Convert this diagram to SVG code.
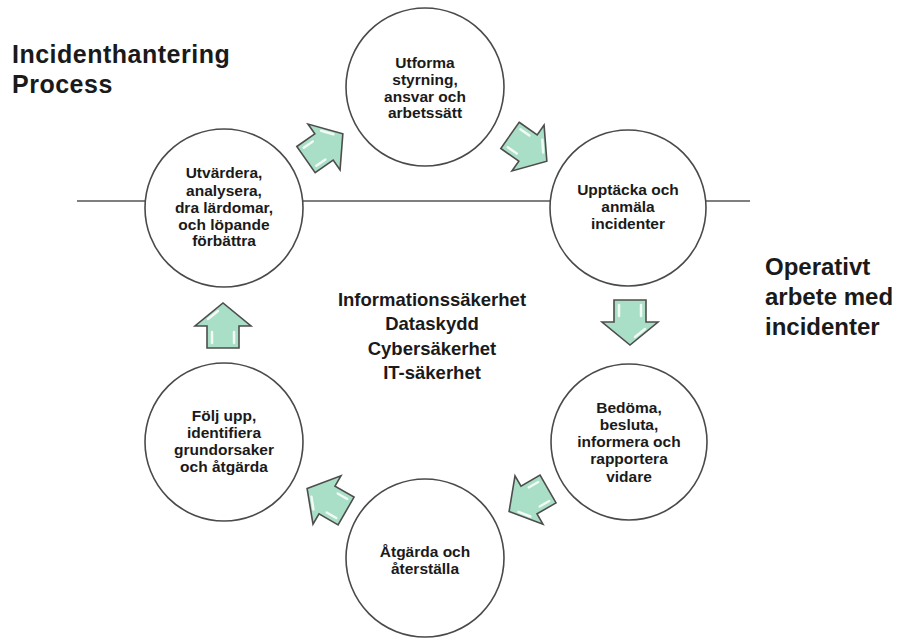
<svg xmlns="http://www.w3.org/2000/svg" width="904" height="638" viewBox="0 0 904 638">
  <style>
    .bg { fill: #ffffff; }
    .axis { stroke: #555555; stroke-width: 1.3; fill: none; }
    .node { fill: #ffffff; stroke: #4a4a4a; stroke-width: 1.6; }
    .lbl { font-family: "Liberation Sans", Arial, sans-serif; font-weight: bold; font-size: 15.5px; fill: #1a1a1a; text-anchor: middle; }
    .title { font-family: "Liberation Sans", Arial, sans-serif; font-weight: bold; font-size: 25px; letter-spacing: 0.5px; fill: #1a1a1a; }
    .side { font-family: "Liberation Sans", Arial, sans-serif; font-weight: bold; font-size: 24px; fill: #1a1a1a; }
    .core { font-family: "Liberation Sans", Arial, sans-serif; font-weight: bold; font-size: 18.5px; fill: #1a1a1a; text-anchor: middle; }
    .arrow { fill: #a9dfc6; stroke: #4d4d4d; stroke-width: 1.6; stroke-linejoin: miter; }
    .shine { fill: none; stroke: #ffffff; stroke-width: 2.5; stroke-linecap: round; opacity: 0.85; }
  </style>
  <defs>
    <!-- block arrow pointing right, centred on the origin -->
    <g id="blockArrow">
      <path class="arrow" d="M-22,-16 L0,-16 L0,-28 L23,0 L0,28 L0,16 L-22,16 Z"/>
      <path class="shine" d="M-17,-11 L-6,-11"/>
      <path class="shine" d="M7,-15 L15,-5"/>
      <path class="shine" d="M-17,11 L-6,11"/>
    </g>
  </defs>

  <rect class="bg" x="0" y="0" width="904" height="638"/>

  <!-- horizontal divider -->
  <line class="axis" x1="77" y1="201" x2="750" y2="201"/>

  <!-- headings -->
  <g id="heading-process">
    <text class="title" x="12" y="63">Incidenthantering</text>
    <text class="title" x="12" y="93">Process</text>
  </g>
  <g id="heading-operativt">
    <text class="side" x="765" y="275">Operativt</text>
    <text class="side" x="765" y="305">arbete med</text>
    <text class="side" x="765" y="335">incidenter</text>
  </g>
  <g id="core-areas">
    <text class="core" x="432" y="306">Informationssäkerhet</text>
    <text class="core" x="432" y="330">Dataskydd</text>
    <text class="core" x="432" y="355">Cybersäkerhet</text>
    <text class="core" x="432" y="379">IT-säkerhet</text>
  </g>

  <!-- connectors -->
  <g id="connectors">
    <use href="#blockArrow" transform="translate(324,147) rotate(-35)"/>
    <use href="#blockArrow" transform="translate(528,148) rotate(35)"/>
    <use href="#blockArrow" transform="translate(630,322) rotate(90)"/>
    <use href="#blockArrow" transform="translate(529,500) rotate(150)"/>
    <use href="#blockArrow" transform="translate(327,500) rotate(210)"/>
    <use href="#blockArrow" transform="translate(223,326) rotate(-90)"/>
  </g>

  <!-- process steps -->
  <g id="step-utforma">
    <circle class="node" cx="425" cy="87" r="79"/>
    <text class="lbl" x="425" y="68">Utforma</text>
    <text class="lbl" x="425" y="85">styrning,</text>
    <text class="lbl" x="425" y="102">ansvar och</text>
    <text class="lbl" x="425" y="118">arbetssätt</text>
  </g>
  <g id="step-upptacka">
    <circle class="node" cx="628" cy="208" r="78"/>
    <text class="lbl" x="628" y="195">Upptäcka och</text>
    <text class="lbl" x="628" y="212">anmäla</text>
    <text class="lbl" x="628" y="229">incidenter</text>
  </g>
  <g id="step-bedoma">
    <circle class="node" cx="629" cy="442" r="78"/>
    <text class="lbl" x="629" y="413">Bedöma,</text>
    <text class="lbl" x="629" y="430">besluta,</text>
    <text class="lbl" x="629" y="447">informera och</text>
    <text class="lbl" x="629" y="464">rapportera</text>
    <text class="lbl" x="629" y="482">vidare</text>
  </g>
  <g id="step-atgarda">
    <circle class="node" cx="425" cy="558" r="79"/>
    <text class="lbl" x="425" y="557">Åtgärda och</text>
    <text class="lbl" x="425" y="574">återställa</text>
  </g>
  <g id="step-folj-upp">
    <circle class="node" cx="224" cy="442" r="79"/>
    <text class="lbl" x="224" y="421">Följ upp,</text>
    <text class="lbl" x="224" y="438">identifiera</text>
    <text class="lbl" x="224" y="455">grundorsaker</text>
    <text class="lbl" x="224" y="472">och åtgärda</text>
  </g>
  <g id="step-utvardera">
    <circle class="node" cx="224" cy="208" r="79"/>
    <text class="lbl" x="224" y="178">Utvärdera,</text>
    <text class="lbl" x="224" y="196">analysera,</text>
    <text class="lbl" x="224" y="213">dra lärdomar,</text>
    <text class="lbl" x="224" y="230">och löpande</text>
    <text class="lbl" x="224" y="246">förbättra</text>
  </g>
</svg>
